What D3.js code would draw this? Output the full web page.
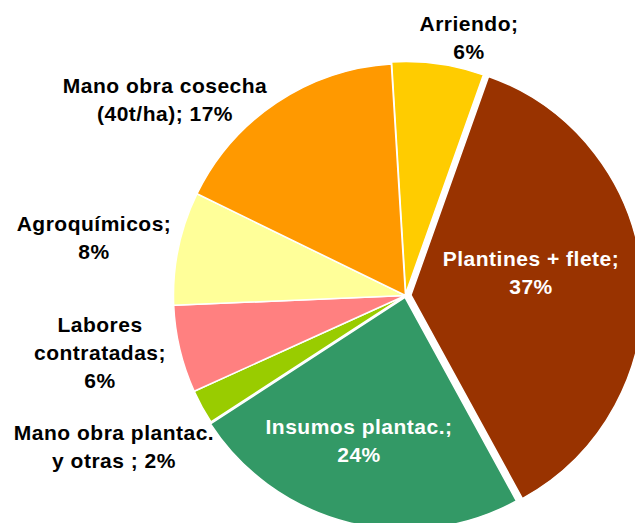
<!DOCTYPE html>
<html>
<head>
<meta charset="utf-8">
<script src="https://cdn.jsdelivr.net/npm/d3@7"></script>
<style>
  html, body { margin: 0; padding: 0; background: #fff; }
  svg { display: block; }
  text { font-family: "Liberation Sans", Arial, sans-serif; font-weight: bold; }
</style>
</head>
<body>
<svg id="canvas"></svg>
<script>
// cost shares, clockwise from the top
const categories = ["Arriendo", "Plantines + flete", "Insumos plantac.", "Mano obra plantac. y otras", "Labores contratadas", "Agroquímicos", "Mano obra cosecha (40t/ha)"];
const shares = [6.4, 36.6, 23.8, 2.4, 6.1, 7.9, 16.8];
const colors = ["#FFCC00", "#993300", "#339966", "#99CC00", "#FF8080", "#FFFF99", "#FF9900"];
// label text, {p} is replaced by the percentage
const labelTexts = ["Arriendo;\n{p}", "Plantines + flete;\n{p}", "Insumos plantac.;\n{p}", "Mano obra plantac.\ny otras ; {p}", "Labores\ncontratadas;\n{p}", "Agroquímicos;\n{p}", "Mano obra cosecha\n(40t/ha); {p}"];

const width = 635;
const height = 523;

// layout
const cx = 405.5, cy = 295.5, radius = 232;
const startAngle = -3.5 * Math.PI / 180;
const explode = [2, 5.5, 2, 0, 0, 0, 0];
const labelPos = [[469, 31], [531, 266], [359, 434], [114, 440], [100, 332], [94, 231], [165, 93]];
const insideLabel = [false, true, true, false, false, false, false];
const lineHeight = 28;

const svg = d3.select("#canvas").attr("width", width).attr("height", height);

const data = categories.map((c, i) => ({ name: c, value: shares[i], i }));
const total = d3.sum(shares);

const pie = d3.pie().value(d => d.value).sort(null)
    .startAngle(startAngle).endAngle(startAngle + 2 * Math.PI);
const arc = d3.arc().innerRadius(0).outerRadius(radius);

const arcs = pie(data);

const g = svg.append("g").attr("transform", `translate(${cx},${cy})`);

g.selectAll("path")
    .data(arcs)
    .join("path")
    .attr("d", arc)
    .attr("fill", d => colors[d.data.i])
    .attr("stroke", "#fff")
    .attr("stroke-width", 1.5)
    .attr("stroke-linejoin", "round")
    .attr("transform", d => {
        const a = (d.startAngle + d.endAngle) / 2;
        const off = explode[d.data.i];
        return `translate(${off * Math.sin(a)},${-off * Math.cos(a)})`;
    });

const labels = svg.append("g").classed("labels", true);
arcs.forEach(d => {
    const i = d.data.i;
    const pct = Math.round(d.data.value / total * 100) + "%";
    const lines = labelTexts[i].replace("{p}", pct).split("\n");
    const t = labels.append("text")
        .attr("text-anchor", "middle")
        .attr("fill", insideLabel[i] ? "#fff" : "#000")
        .style("font-size", "21px")
        .style("letter-spacing", "0.5px");
    lines.forEach((line, k) => {
        t.append("tspan")
            .attr("x", labelPos[i][0])
            .attr("y", labelPos[i][1] + k * lineHeight)
            .text(line);
    });
});
</script>
</body>
</html>
